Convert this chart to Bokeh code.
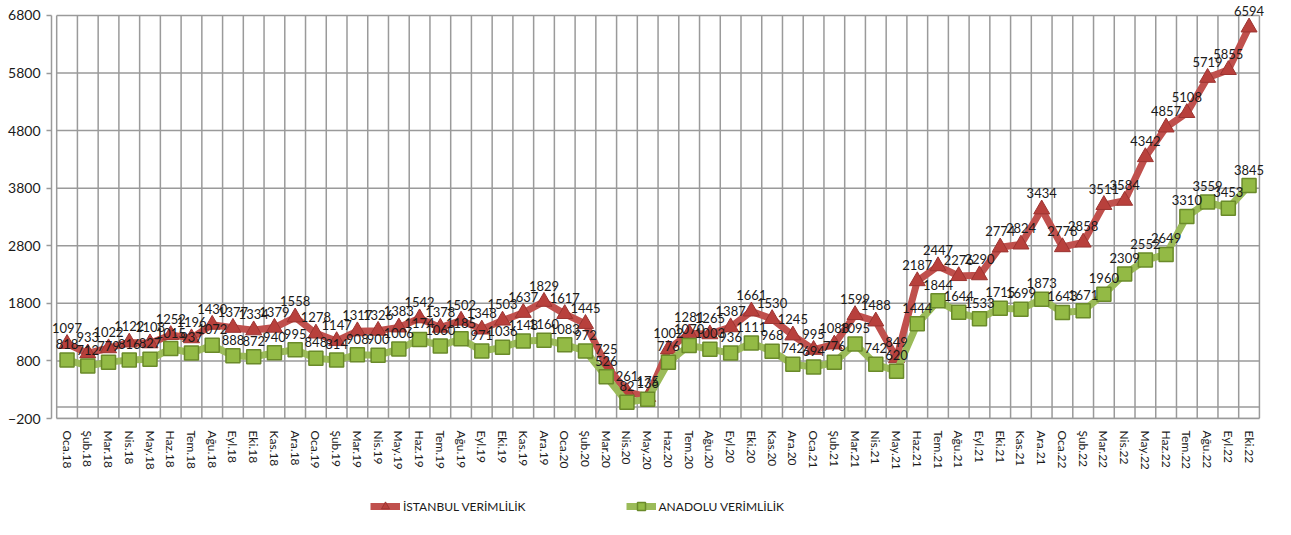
import math
from bokeh.plotting import figure
from bokeh.layouts import column
from bokeh.core.properties import value
from bokeh.models import (Range1d, FixedTicker, ColumnDataSource, LabelSet,
                          Legend, LegendItem)
from bokeh.embed import file_html
from bokeh.resources import INLINE

months = ["Oca", "Şub", "Mar", "Nis", "May", "Haz", "Tem", "Ağu", "Eyl", "Eki", "Kas", "Ara"]
categories = [f"{m}.{y}" for y in ["18", "19", "20", "21"] for m in months] + \
             [f"{m}.22" for m in months[:10]]

istanbul = [1097, 933, 1022, 1122, 1108, 1252, 1196, 1430, 1377, 1334, 1379, 1558,
            1278, 1147, 1317, 1326, 1383, 1542, 1378, 1502, 1348, 1503, 1637, 1829,
            1617, 1445, 725, 261, 175, 1002, 1281, 1265, 1387, 1661, 1530, 1245,
            995, 1088, 1599, 1488, 849, 2187, 2447, 2276, 2290, 2774, 2824, 3434,
            2778, 2858, 3511, 3584, 4342, 4857, 5108, 5719, 5855, 6594]

anadolu = [818, 712, 779, 816, 827, 1015, 937, 1072, 888, 872, 940, 995,
           848, 814, 908, 900, 1006, 1174, 1060, 1185, 971, 1036, 1148, 1160,
           1083, 972, 526, 82, 136, 776, 1070, 1003, 936, 1111, 968, 742,
           694, 776, 1095, 742, 620, 1444, 1844, 1644, 1533, 1715, 1699, 1873,
           1643, 1671, 1960, 2309, 2552, 2649, 3310, 3559, 3453, 3845]

series_names = ["İSTANBUL VERİMLİLİK", "ANADOLU VERİMLİLİK"]
y_ticks = [-200, 800, 1800, 2800, 3800, 4800, 5800, 6800]

FONT = "Lato"
TXT = "#1a1a1a"
GRID = "#9a9a9a"
RED_LINE, RED_FILL, RED_EDGE = "#C0504D", "#B8403C", "#9C3431"
GRN_LINE, GRN_FILL, GRN_EDGE = "#9BBB59", "#93BA45", "#6A8A2A"

n = len(categories)
idx = list(range(n))
src = ColumnDataSource(dict(
    x=idx, cat=categories, ist=istanbul, ana=anadolu,
    ist_t=[str(v) for v in istanbul], ana_t=[str(v) for v in anadolu]))


def draw_series(fig):
    rl = fig.line("x", "ist", source=src, line_color=RED_LINE, line_width=7)
    rm = fig.scatter("x", "ist", source=src, marker="triangle", size=16,
                     fill_color=RED_FILL, line_color=RED_EDGE, line_width=1)
    gl = fig.line("x", "ana", source=src, line_color=GRN_LINE, line_width=7)
    gm = fig.scatter("x", "ana", source=src, marker="square", size=14,
                     fill_color=GRN_FILL, line_color=GRN_EDGE, line_width=1.5)
    return rl, rm, gl, gm


x_lo, x_hi = -0.5, n - 0.5
p = figure(width=1291, height=485, output_backend="svg", toolbar_location=None,
           x_range=Range1d(x_lo - 0.25, x_hi + 1.45), y_range=Range1d(y_ticks[0], 7060),
           min_border_left=51, min_border_right=2, min_border_top=0, min_border_bottom=67)
p.outline_line_color = None
p.background_fill_color = "white"

# gridlines limited to the plot area (labels may overhang to the right, as in the original)
p.xgrid.grid_line_color = None
p.ygrid.grid_line_color = None
bounds = [i - 0.5 for i in range(n + 1)]
p.segment(x0=bounds, y0=[y_ticks[0]] * len(bounds), x1=bounds, y1=[y_ticks[-1]] * len(bounds),
          line_color=GRID, line_width=1.5)
h_levels = y_ticks + [0]
p.segment(x0=[x_lo] * len(h_levels), y0=h_levels, x1=[x_hi] * len(h_levels), y1=h_levels,
          line_color=GRID, line_width=1.5)

# axes
p.xaxis.ticker = FixedTicker(ticks=idx)
p.xaxis.bounds = (x_lo, x_hi)
p.xaxis.major_label_overrides = {i: c for i, c in zip(idx, categories)}
p.xaxis.major_label_orientation = "vertical"
p.xaxis.major_label_text_font = FONT
p.xaxis.major_label_text_font_size = "12px"
p.xaxis.major_label_text_color = TXT
p.xaxis.major_tick_line_color = None
p.xaxis.minor_tick_line_color = None
p.xaxis.axis_line_color = GRID
p.xaxis.axis_line_width = 1.5
p.xaxis.major_label_standoff = 6

p.yaxis.ticker = FixedTicker(ticks=y_ticks)
p.yaxis.bounds = (y_ticks[0], y_ticks[-1])
p.yaxis.major_label_text_font = FONT
p.yaxis.major_label_text_font_size = "14px"
p.yaxis.major_label_text_color = TXT
p.yaxis.axis_line_color = GRID
p.yaxis.axis_line_width = 1.5
p.yaxis.major_tick_line_color = GRID
p.yaxis.major_tick_line_width = 1.5
p.yaxis.major_tick_in = 0
p.yaxis.major_tick_out = 5
p.yaxis.minor_tick_line_color = None
p.yaxis.major_label_standoff = 6

draw_series(p)

# data labels
for col, txt in (("ist", "ist_t"), ("ana", "ana_t")):
    p.add_layout(LabelSet(x="x", y=col, text=txt, source=src, text_align="center",
                          text_baseline="bottom", y_offset=11, text_font=value(FONT),
                          text_font_size="13px", text_color=TXT))

# legend strip below the chart (its series sit outside this strip's view)
lg = figure(width=1291, height=42, output_backend="svg", toolbar_location=None,
            x_axis_location=None, y_axis_location=None,
            x_range=Range1d(-2, -1), y_range=Range1d(-2, -1),
            min_border_left=0, min_border_right=0, min_border_top=0, min_border_bottom=0)
lg.outline_line_color = None
lg.xgrid.grid_line_color = None
lg.ygrid.grid_line_color = None
l1, m1, l2, m2 = draw_series(lg)
legend = Legend(items=[LegendItem(label=series_names[0], renderers=[l1, m1]),
                       LegendItem(label=series_names[1], renderers=[l2, m2])],
                orientation="horizontal", location=(319, 11), spacing=100,
                padding=0, margin=0, glyph_width=30, glyph_height=20, label_height=20,
                label_standoff=3, label_text_font=FONT, label_text_font_size="12px",
                label_text_color=TXT, background_fill_alpha=0, border_line_color=None)
lg.add_layout(legend, "center")

layout = column(p, lg, spacing=0)
open("out.html", "w").write(file_html(layout, INLINE))
